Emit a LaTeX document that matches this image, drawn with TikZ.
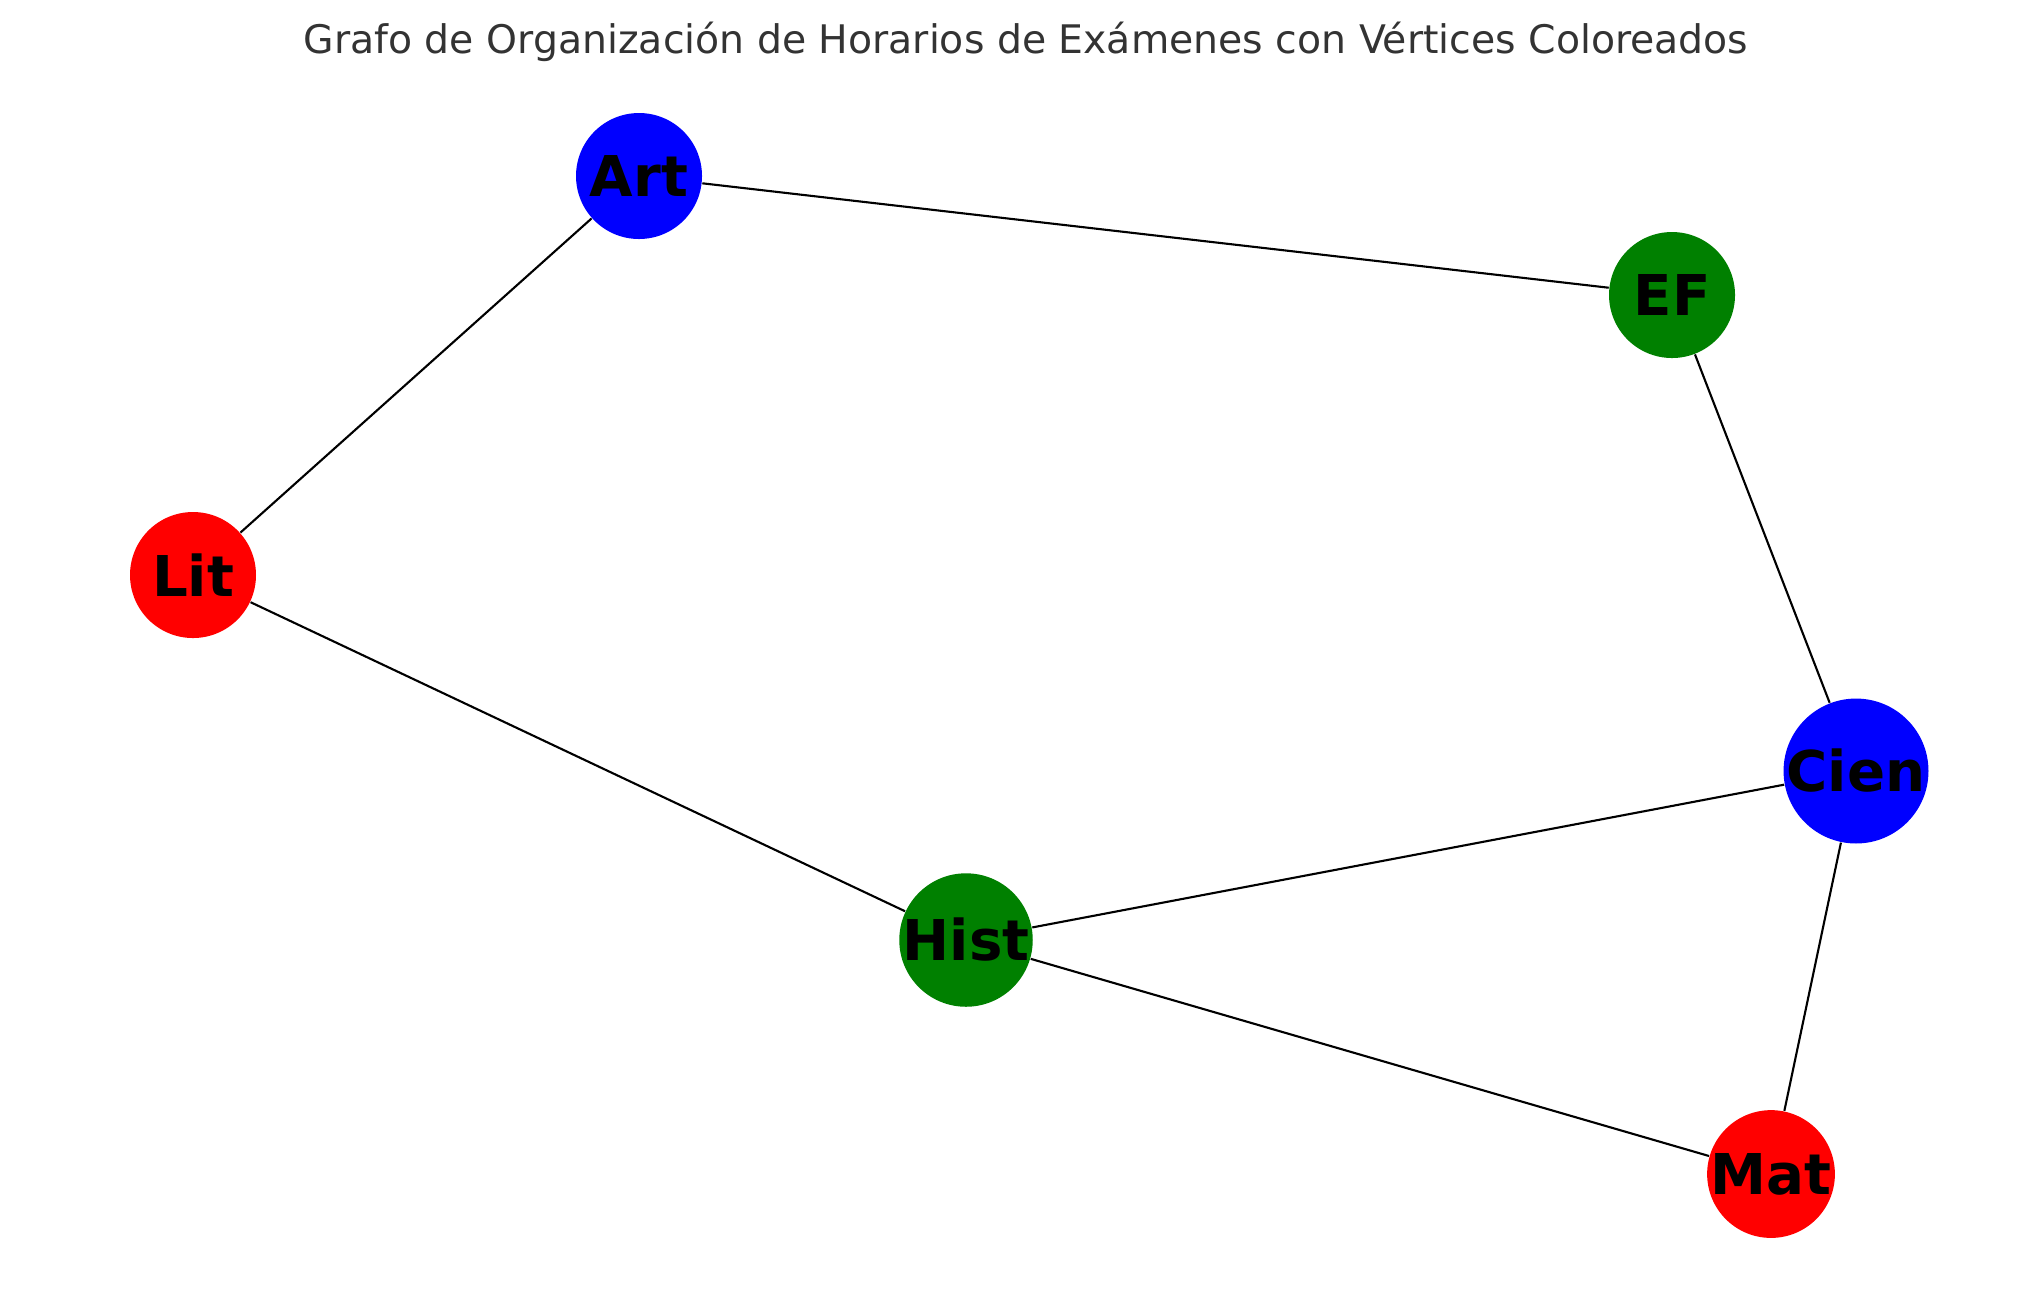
\documentclass[tikz,border=0pt]{standalone}
\usepackage{fontspec}
\setmainfont{DejaVu Sans}
\definecolor{vgreen}{RGB}{0,128,0}
\tikzset{
  vert/.style={circle,minimum size=1.26cm,inner sep=0pt,font=\fontsize{16}{16}\selectfont\bfseries},
  edge/.style={draw=black,line width=0.6pt}
}
\begin{document}
\begin{tikzpicture}[x=1cm,y=-1cm]
\useasboundingbox (0,0) rectangle (20.39,12.92);
\node[text=black!80,font=\fontsize{11.2}{12}\selectfont] (title) at (10.26,0.42) {Grafo de Organización de Horarios de Exámenes con Vértices Coloreados};
% vertices
\node[vert,fill=blue] (art) at (6.39,1.76) {Art};
\node[vert,fill=vgreen] (ef) at (16.72,2.95) {EF};
\node[vert,fill=red] (lit) at (1.93,5.75) {Lit};
\node[vert,fill=blue] (cien) at (18.56,7.71) {Cien};
\node[vert,fill=vgreen] (hist) at (9.66,9.40) {Hist};
\node[vert,fill=red] (mat) at (17.71,11.74) {Mat};
% edges
\begin{scope}[on background layer/.style={}]
\end{scope}
\draw[edge] (art) -- (ef);
\draw[edge] (art) -- (lit);
\draw[edge] (ef) -- (cien);
\draw[edge] (lit) -- (hist);
\draw[edge] (hist) -- (cien);
\draw[edge] (hist) -- (mat);
\draw[edge] (cien) -- (mat);
\end{tikzpicture}
\end{document}
